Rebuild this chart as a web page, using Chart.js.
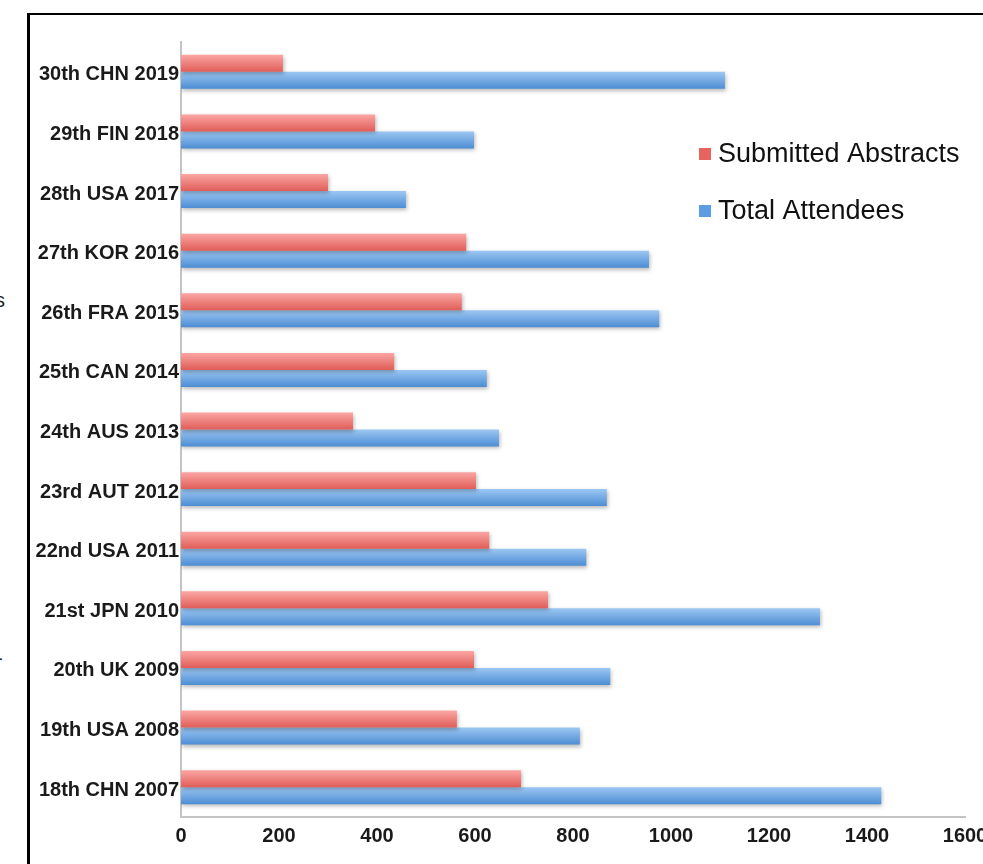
<!DOCTYPE html>
<html>
<head>
<meta charset="utf-8">
<script src="https://cdn.jsdelivr.net/npm/chart.js@4.4.1/dist/chart.umd.min.js"></script>
<style>
  html, body { margin: 0; padding: 0; background: #fff; }
  body { width: 983px; height: 864px; position: relative; overflow: hidden; }
  .frame { position: absolute; left: 27px; top: 13px; width: 1000px; height: 900px;
           border-left: 3px solid #000; border-top: 2px solid #000; }
  .stray { position: absolute; font-family: "Liberation Sans", Arial, sans-serif; font-size: 20px;
           line-height: 23px; color: #222; }
  #wrap { position: absolute; left: 0; top: 0; width: 983px; height: 864px; }
</style>
</head>
<body>
<div class="frame"></div>
<div class="stray" style="left:-5px; top:289px;">s</div>
<div class="stray" style="left:-4px; top:647px;">-</div>
<div id="wrap"><canvas id="chart"></canvas></div>
<script>
// values
const meetings = ["30th CHN 2019", "29th FIN 2018", "28th USA 2017", "27th KOR 2016",
  "26th FRA 2015", "25th CAN 2014", "24th AUS 2013", "23rd AUT 2012", "22nd USA 2011",
  "21st JPN 2010", "20th UK 2009", "19th USA 2008", "18th CHN 2007"];
const abstracts = [208, 396, 300, 582, 573, 435, 351, 602, 629, 749, 598, 563, 694];
const attendees = [1110, 598, 459, 955, 976, 624, 649, 869, 827, 1304, 876, 814, 1429];
const xTicks = [0, 200, 400, 600, 800, 1000, 1200, 1400, 1600];

const CAT_PCT = 0.57;
const FONT = "'Liberation Sans', Arial, sans-serif";

// vertical gradient per bar, like the glossy Keynote bars
function barFill(top, bottom) {
  return (context) => {
    const chart = context.chart;
    const area = chart.chartArea;
    if (!area || context.dataIndex === undefined || !chart.scales.y) return bottom;
    const center = chart.scales.y.getPixelForValue(context.dataIndex);
    const half = (area.bottom - area.top) / meetings.length * CAT_PCT / 2;
    const y0 = context.datasetIndex === 0 ? center - half : center;
    const g = chart.ctx.createLinearGradient(0, y0, 0, y0 + half);
    g.addColorStop(0, top);
    g.addColorStop(1, bottom);
    return g;
  };
}

const shadowPlugin = {
  id: "barShadow",
  beforeDatasetsDraw(chart) {
    const c = chart.ctx;
    c.save();
    c.shadowColor = "rgba(0,0,0,0.28)";
    c.shadowBlur = 4;
    c.shadowOffsetX = 1;
    c.shadowOffsetY = 2;
  },
  afterDatasetsDraw(chart) {
    chart.ctx.restore();
  }
};

const legendPlugin = {
  id: "insideLegend",
  afterDraw(chart) {
    const c = chart.ctx;
    const rows = [154, 211];
    const swatch = ["#e8625e", "#5c9ce2"];
    c.save();
    c.font = "27px " + FONT;
    c.textBaseline = "middle";
    chart.data.datasets.forEach((ds, i) => {
      c.fillStyle = swatch[i];
      c.fillRect(699, rows[i] - 6, 12, 12);
      c.fillStyle = "#111";
      c.fillText(ds.label, 718, rows[i] + 1);
    });
    c.restore();
  }
};

new Chart(document.getElementById("chart"), {
  type: "bar",
  data: {
    labels: meetings,
    datasets: [
      { label: "Submitted Abstracts", data: abstracts,
        backgroundColor: barFill("#fba6a4", "#e05d58") },
      { label: "Total Attendees", data: attendees,
        backgroundColor: barFill("#9cc7f3", "#4d8dd3") }
    ]
  },
  options: {
    indexAxis: "y",
    responsive: true,
    maintainAspectRatio: false,
    animation: false,
    devicePixelRatio: 1,
    categoryPercentage: CAT_PCT,
    barPercentage: 1.0,
    layout: { padding: { top: 42, right: 18, bottom: 0, left: 0 } },
    plugins: { legend: { display: false }, tooltip: { enabled: false } },
    scales: {
      x: {
        min: 0, max: 1600,
        afterBuildTicks: (s) => { s.ticks = xTicks.map(v => ({ value: v })); },
        afterFit: (s) => { s.height = 47; s.paddingLeft = 0; s.paddingRight = 0; },
        grid: { display: false, drawTicks: false },
        border: { color: "#c4c4c4", width: 2 },
        ticks: { padding: 7, color: "#1a1a1a", callback: (v) => String(v),
                 font: { family: FONT, size: 20, weight: "bold" } }
      },
      y: {
        afterFit: (s) => { s.width = 181; },
        grid: { display: false, drawTicks: false },
        border: { color: "#c4c4c4", width: 2 },
        ticks: { padding: 2, labelOffset: 3, color: "#1a1a1a",
                 font: { family: FONT, size: 20, weight: "bold" } }
      }
    }
  },
  plugins: [shadowPlugin, legendPlugin]
});
</script>
</body>
</html>
